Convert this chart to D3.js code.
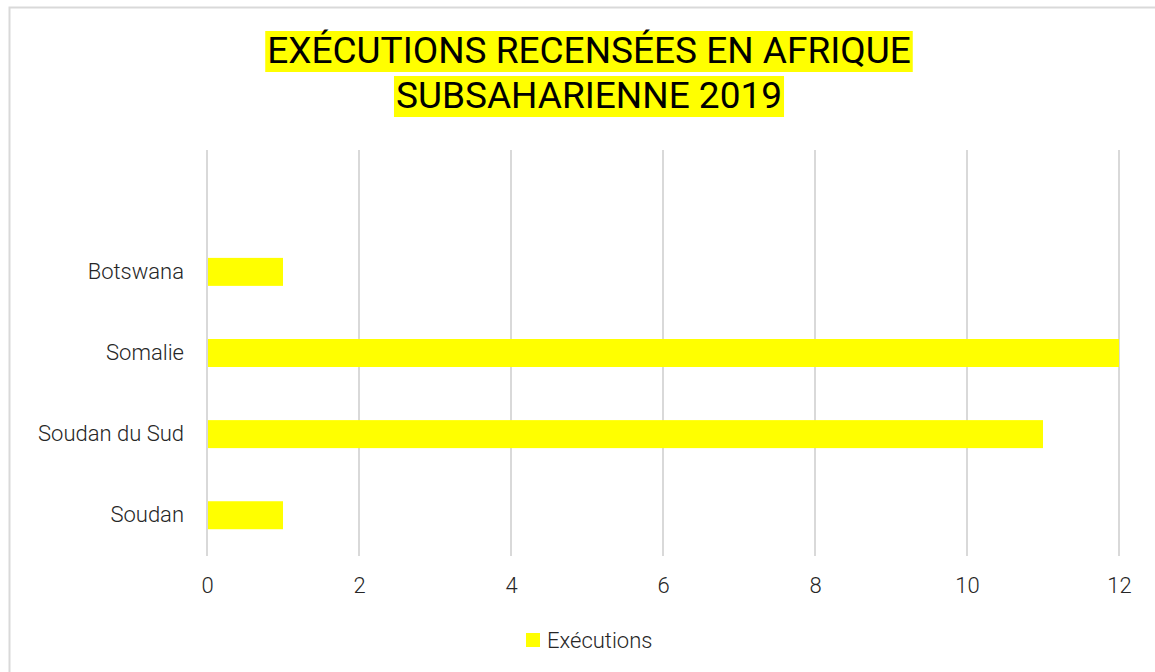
<!DOCTYPE html>
<html>
<head>
<meta charset="utf-8">
<script src="https://cdn.jsdelivr.net/npm/d3@7"></script>
<style>
  body { margin: 0; background: #fff; }
  svg { display: block; }
  text { font-family: "Liberation Sans Narrow", "Roboto", "Noto Sans", sans-serif; }
</style>
</head>
<body>
<div id="chart"></div>
<script>
// categories top to bottom (first slot is an empty category, as in the source)
var categories = ["", "Botswana", "Somalie", "Soudan du Sud", "Soudan"];
var values = [null, 1, 12, 11, 1];
var xTicks = [0, 2, 4, 6, 8, 10, 12];
var titleLines = ["EXÉCUTIONS RECENSÉES EN AFRIQUE ", "SUBSAHARIENNE 2019"];
var seriesName = "Exécutions";

var W = 1155, H = 672;
var margin = { top: 150, right: 36, bottom: 116, left: 207 };
var width = W - margin.left - margin.right,
    height = H - margin.top - margin.bottom;

var svg = d3.select("#chart").append("svg")
    .attr("width", W)
    .attr("height", H);

// chart area border
svg.append("rect")
    .attr("x", 9.5).attr("y", 7.5)
    .attr("width", W + 20).attr("height", H + 20)
    .attr("fill", "#fff")
    .attr("stroke", "#d9d9d9")
    .attr("stroke-width", 2);

// title with yellow highlight
var titleY = [63, 108];
titleLines.forEach(function(line, i) {
    var g = svg.append("g");
    var t = g.append("text")
        .attr("x", 589)
        .attr("y", titleY[i])
        .attr("text-anchor", "middle")
        .style("font-size", "37px")
        .style("fill", "#000")
        .text(line);
    var bb = t.node().getBBox();
    g.insert("rect", "text")
        .attr("x", bb.x - 2)
        .attr("y", bb.y + 2)
        .attr("width", bb.width + 4)
        .attr("height", bb.height - 2)
        .attr("fill", "#ffff00");
});

var g = svg.append("g")
    .attr("transform", "translate(" + margin.left + "," + margin.top + ")");

var x = d3.scaleLinear().domain([0, 12]).range([0, width]);
var y = d3.scaleBand().domain(categories).range([0, height]).paddingInner(0.655).paddingOuter(0.33);

// gridlines
g.selectAll(".grid")
    .data(xTicks)
    .enter().append("line")
    .attr("x1", function(d) { return x(d); })
    .attr("x2", function(d) { return x(d); })
    .attr("y1", 0)
    .attr("y2", height)
    .attr("stroke", "#d9d9d9")
    .attr("stroke-width", 2);

// bars
g.selectAll(".bar")
    .data(categories.map(function(c, i) { return { cat: c, value: values[i] }; })
        .filter(function(d) { return d.value != null; }))
    .enter().append("rect")
    .attr("class", "bar")
    .attr("x", x(0) + 1)
    .attr("y", function(d) { return y(d.cat); })
    .attr("width", function(d) { return x(d.value) - x(0) - 1; })
    .attr("height", y.bandwidth())
    .attr("fill", "#ffff00");

// x axis
var xAxis = g.append("g")
    .attr("transform", "translate(0," + height + ")")
    .call(d3.axisBottom(x).tickValues(xTicks).tickSize(0).tickPadding(21));
xAxis.select(".domain").remove();
xAxis.selectAll("text")
    .style("font-size", "22px")
    .style("fill", "#262626")
    .style("font-family", "Roboto, sans-serif")
    .style("font-weight", "300");

// y axis
var yAxis = g.append("g")
    .call(d3.axisLeft(y).tickSize(0).tickPadding(23));
yAxis.select(".domain").remove();
yAxis.selectAll("text")
    .style("font-size", "22px")
    .style("fill", "#262626")
    .style("font-family", "Roboto, sans-serif")
    .style("font-weight", "300");

// legend
var legend = svg.append("g").attr("transform", "translate(526,633)");
legend.append("rect")
    .attr("width", 14).attr("height", 14)
    .attr("fill", "#ffff00");
legend.append("text")
    .attr("x", 21)
    .attr("y", 7)
    .attr("dy", "0.35em")
    .style("font-size", "22px")
    .style("fill", "#262626")
    .style("font-family", "Roboto, sans-serif")
    .style("font-weight", "300")
    .text(seriesName);
</script>
</body>
</html>
